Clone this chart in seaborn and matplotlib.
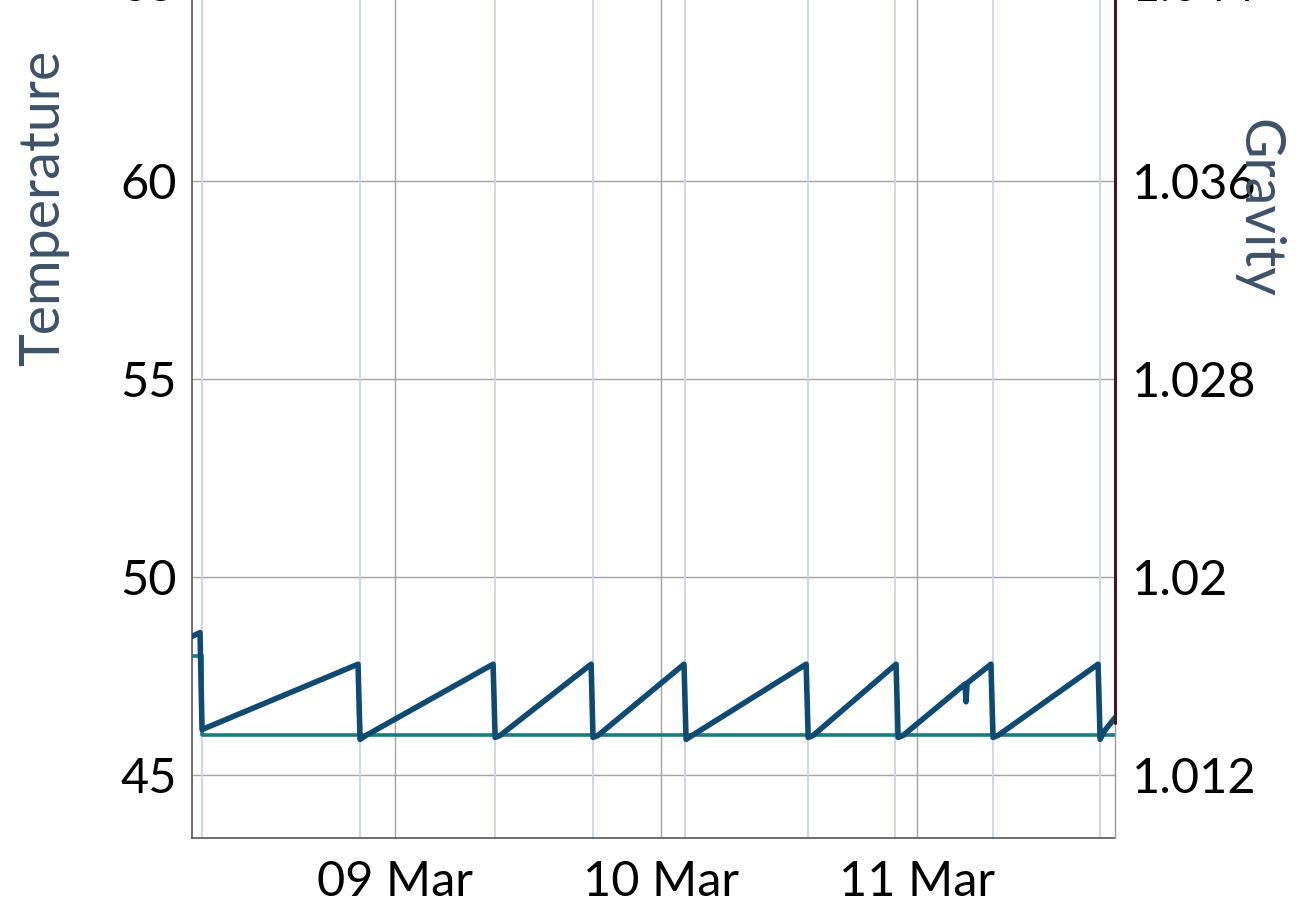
import pandas as pd
import numpy as np
import matplotlib
matplotlib.use("Agg")
import matplotlib.pyplot as plt
import matplotlib.dates as mdates
from matplotlib.ticker import FixedLocator, FuncFormatter, MultipleLocator
import seaborn as sns

# times are UTC, ticks are drawn at New York midnights
temp_times = ["2024-03-08 10:43", "2024-03-08 11:26", "2024-03-08 11:37", "2024-03-09 01:40",
              "2024-03-09 01:51", "2024-03-09 02:23", "2024-03-09 13:50",
              "2024-03-09 14:01", "2024-03-09 14:28", "2024-03-09 22:40",
              "2024-03-09 22:50", "2024-03-09 23:17", "2024-03-10 07:02",
              "2024-03-10 07:13", "2024-03-10 07:46", "2024-03-10 18:02",
              "2024-03-10 18:13", "2024-03-10 18:40", "2024-03-11 02:08",
              "2024-03-11 02:19", "2024-03-11 02:46", "2024-03-11 08:21",
              "2024-03-11 08:26", "2024-03-11 08:32", "2024-03-11 10:41",
              "2024-03-11 10:52", "2024-03-11 11:19", "2024-03-11 20:20",
              "2024-03-11 20:31", "2024-03-11 20:52", "2024-03-11 21:52"]
temp_values = [48.5, 48.6, 46.15, 47.8,
               45.9, 46.0, 47.8,
               45.95, 46.0, 47.8,
               45.95, 46.0, 47.8,
               45.9, 46.0, 47.8,
               45.95, 46.0, 47.8,
               45.95, 46.0, 47.3,
               46.85, 47.32, 47.8,
               45.95, 46.0, 47.8,
               45.9, 46.1, 46.45]

target_times = ["2024-03-08 10:43", "2024-03-08 11:35", "2024-03-11 21:52"]
target_values = [48.0, 46.0, 46.0]

gravity_times = ["2024-03-11 21:52", "2024-03-11 21:52"]
gravity_values = [1.0141, 1.0600]

event_times = ["2024-03-08 11:37", "2024-03-09 01:51", "2024-03-09 14:01", "2024-03-09 22:50",
               "2024-03-10 07:05", "2024-03-10 18:10", "2024-03-11 02:05",
               "2024-03-11 10:52", "2024-03-11 20:31"]

gravity_ticks = [1.012, 1.020, 1.028, 1.036, 1.044, 1.052, 1.060]

temp_df = pd.DataFrame({"time": pd.to_datetime(temp_times), "Temperature": temp_values})
target_df = pd.DataFrame({"time": pd.to_datetime(target_times), "Target": target_values})
gravity_df = pd.DataFrame({"time": pd.to_datetime(gravity_times), "Gravity": gravity_values})

sns.set_theme(style="white")
plt.rcParams["font.family"] = ["Lato", "DejaVu Sans"]

fig = plt.figure(figsize=(13.03, 9.1), dpi=100)
ax = fig.add_axes([0.1474, 0.0791, 0.7084, 1.3846])
ax2 = ax.twinx()

for t in pd.to_datetime(event_times):
    ax.axvline(t, color="#c9d8ea", linewidth=1.4, zorder=1)

sns.lineplot(data=target_df, x="time", y="Target", ax=ax, color="#1b7c7e", linewidth=2.6,
             estimator=None, drawstyle="steps-post", zorder=3)
sns.lineplot(data=temp_df, x="time", y="Temperature", ax=ax, color="#0f4a72", linewidth=4.0,
             estimator=None, zorder=4, solid_joinstyle="round")
sns.lineplot(data=gravity_df, x="time", y="Gravity", ax=ax2, color="#4a1518", linewidth=2.2,
             estimator=None, clip_on=False, zorder=5)

ax.set_xlim(pd.Timestamp("2024-03-08 10:43"), pd.Timestamp("2024-03-11 21:52"))
ax.set_ylim(43.41, 75.23)
ax2.set_ylim(1.009456, 1.060368)

ax.xaxis.set_major_locator(mdates.DayLocator(tz="America/New_York"))
ax.xaxis.set_major_formatter(mdates.DateFormatter("%d %b", tz="America/New_York"))
ax.yaxis.set_major_locator(MultipleLocator(5))
ax2.yaxis.set_major_locator(FixedLocator(gravity_ticks))
ax2.yaxis.set_major_formatter(FuncFormatter(lambda v, p: f"{v:g}"))

ax.grid(True, color="#a3a3a3", linewidth=1.0)
ax2.grid(False)
ax.set_axisbelow(True)

ax.tick_params(axis="both", length=0, labelsize=35, colors="black")
ax.tick_params(axis="x", pad=16)
ax.tick_params(axis="y", pad=11)
ax2.tick_params(axis="y", length=0, labelsize=35, colors="black", pad=12)

ax.set_xlabel("")
ax.set_ylabel("Temperature", fontsize=40, color="#3d5268", va="center", ha="center")
ax.yaxis.set_label_coords(-0.161, 0.5)
ax2.set_ylabel("Gravity", fontsize=40, color="#3d5268", rotation=270, va="center", ha="center")
ax2.yaxis.set_label_coords(1.155, 0.5)

for sp in ["left", "bottom"]:
    ax.spines[sp].set_color("#555555")
    ax.spines[sp].set_linewidth(1.2)
ax.spines["top"].set_visible(False)
ax.spines["right"].set_visible(False)
ax2.spines["top"].set_visible(False)
ax2.spines["left"].set_visible(False)
ax2.spines["bottom"].set_visible(False)
ax2.spines["right"].set_color("#9a9a9a")
ax2.spines["right"].set_linewidth(1.0)

fig.savefig("out.png", dpi=100)
